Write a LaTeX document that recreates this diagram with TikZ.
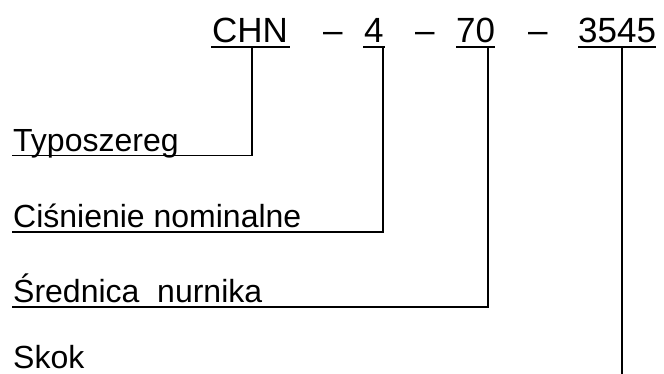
\documentclass[tikz,border=0pt]{standalone}
\usepackage{fontspec}
\setmainfont{Liberation Sans}
\begin{document}
\begin{tikzpicture}[x=1pt,y=-1pt,
  toptxt/.style={inner sep=0pt, anchor=base west, font=\fontsize{35}{35}\selectfont},
  lbl/.style={inner sep=0pt, anchor=base west, font=\fontsize{32}{32}\selectfont},
  ln/.style={line width=1.5pt, line cap=rect},
  uline/.style={line width=1.6pt}]
\useasboundingbox (0,0) rectangle (664,373);
% top code
\node[toptxt] (chn) at (212,42) {CHN};
\node[toptxt] (d1) at (323,42) {–};
\node[toptxt] (n4) at (364,42) {4};
\node[toptxt] (d2) at (415,42) {–};
\node[toptxt] (n70) at (456,42) {70};
\node[toptxt] (d3) at (528,42) {–};
\node[toptxt] (n3545) at (578,42) {3545};
\draw[uline] ([shift={(-1pt,-5pt)}]chn.base west) -- ([shift={(2pt,-5pt)}]chn.base east);
\draw[uline] ([shift={(-1pt,-5pt)}]n4.base west) -- ([shift={(1pt,-5pt)}]n4.base east);
\draw[uline] ([shift={(0pt,-5pt)}]n70.base west) -- ([shift={(0pt,-5pt)}]n70.base east);
\draw[uline] ([shift={(0pt,-5pt)}]n3545.base west) -- ([shift={(0pt,-5pt)}]n3545.base east);
% connector tops
\coordinate (v1) at (252,47);
\coordinate (v2) at (383,47);
\coordinate (v3) at (488,47);
\coordinate (v4) at (622,47);
\coordinate (v4e) at (622,373);
% labels
\node[lbl] (typ) at (13,151) {Typoszereg};
\node[lbl] (cis) at (13,227) {Ciśnienie nominalne};
\node[lbl] (sre) at (13,302) {Średnica\ \ nurnika};
\node[lbl] (skok) at (13,368) {Skok};
% connectors
\draw[ln] ([yshift=-4.5pt]typ.base west) -| (v1);
\draw[ln] ([yshift=-5pt]cis.base west) -| (v2);
\draw[ln] ([yshift=-5pt]sre.base west) -| (v3);
\draw[ln] (v4) -- (v4e);
\end{tikzpicture}
\end{document}
